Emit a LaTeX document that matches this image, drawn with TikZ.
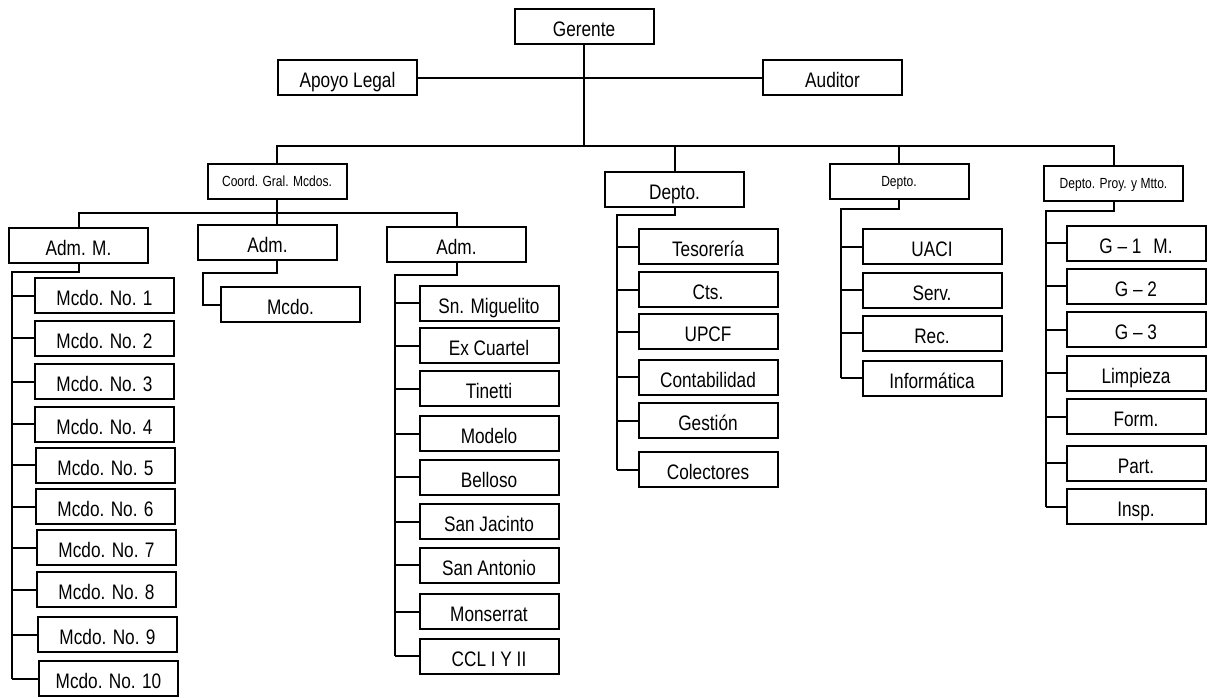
\documentclass[tikz,border=0pt]{standalone}
\usepackage{fontspec}
\setmainfont{Liberation Sans}[FakeStretch=0.82]
\usepackage{tikz}
\tikzset{orgbox/.style={draw, rectangle, inner sep=0pt,
    minimum width=104.25pt, minimum height=26.25pt,
    font=\fontsize{15.75}{18}\selectfont, text height=15pt, text depth=0pt},
    orgsmall/.style={orgbox, font=\fontsize{11}{13}\selectfont, text height=7.9pt}}

\begin{document}
\begin{tikzpicture}[x=0.75pt, y=-0.75pt, line width=1.5pt]
    \useasboundingbox (0,0) rectangle (1213,697);
    \node[orgbox] (ger) at (584,26) {Gerente};
    \node[orgbox] (apoyo) at (347.5,77.5) {Apoyo Legal};
    \node[orgbox] (audit) at (832.5,77.5) {Auditor};
    \coordinate (bus) at (584,146);
    \draw (apoyo) -- (audit);
    \draw (ger) -- (bus);

    \node[orgsmall] (coord) at (277,181.5) {Coord. Gral. Mcdos.};
    \node[orgbox] (dep1) at (674.5,189.5) {Depto.};
    \node[orgsmall] (dep2) at (899,181.5) {Depto.};
    \node[orgsmall] (deppm) at (1113.5,183.5) {Depto. Proy. y Mtto.};
    \draw (coord) |- (bus) -| (deppm);
    \draw (dep1) -- (dep1 |- bus);
    \draw (dep2) -- (dep2 |- bus);

    \coordinate (sub) at (277,213);
    \node[orgbox] (admM) at (78.5,245.5) {Adm. M.};
    \node[orgbox] (adm2) at (267.5,242.5) {Adm.};
    \node[orgbox] (adm3) at (456.5,244.5) {Adm.};
    \draw (admM) |- (sub) -| (adm3);
    \draw (coord) -- (coord |- adm2.north);

    \node[orgbox] (mcdo) at (290.5,304.5) {Mcdo.};
    \coordinate (railB) at (203,273);
    \draw (adm2.south -| coord) |- (railB) |- (mcdo);

    \coordinate (railM) at (12,272);
    \foreach \n/\x/\y/\t in {m1/104.5/295.5/Mcdo. No. 1, m2/104.5/338/Mcdo. No. 2,
        m3/104.5/381.5/Mcdo. No. 3, m4/104.5/424/Mcdo. No. 4, m5/105.5/465/Mcdo. No. 5,
        m6/105.5/506.5/Mcdo. No. 6, m7/106.5/547.5/Mcdo. No. 7, m8/106.5/589.5/Mcdo. No. 8,
        m9/107.5/634.5/Mcdo. No. 9, m10/108.5/678.5/Mcdo. No. 10} {
        \node[orgbox] (\n) at (\x,\y) {\t};
        \draw (railM |- \n) -- (\n);
    }
    \draw (admM) |- (railM) -- (railM |- m10);

    \coordinate (railS) at (395,275);
    \foreach \n/\y/\t in {smig/303/Sn. Miguelito, excu/345.5/Ex Cuartel, tine/388.5/Tinetti,
        mode/433.5/Modelo, bell/477/Belloso, sjac/521.5/San Jacinto, sant/565/San Antonio,
        mons/611.5/Monserrat, ccl/656/CCL I Y II} {
        \node[orgbox] (\n) at (489,\y) {\t};
        \draw (railS |- \n) -- (\n);
    }
    \draw (adm3) |- (railS) -- (railS |- ccl);

    \coordinate (railT) at (617,215);
    \foreach \n/\y/\t in {tes/246.5/Tesorería, cts/289.5/Cts., upcf/331.5/UPCF,
        cont/377/Contabilidad, gest/420.5/Gestión, col/469.5/Colectores} {
        \node[orgbox] (\n) at (708,\y) {\t};
        \draw (railT |- \n) -- (\n);
    }
    \draw (dep1) |- (railT) -- (railT |- col);

    \coordinate (railU) at (841,209);
    \foreach \n/\y/\t in {uaci/246.5/UACI, serv/290/Serv., rec/333/Rec., inf/378/Informática} {
        \node[orgbox] (\n) at (932,\y) {\t};
        \draw (railU |- \n) -- (\n);
    }
    \draw (dep2) |- (railU) -- (railU |- inf);

    \coordinate (railG) at (1046,211);
    \foreach \n/\y/\t in {g1/243/G – 1\hspace{9pt}M., g2/286/G – 2, g3/329.5/G – 3,
        limp/373/Limpieza, form/416.5/Form., part/463/Part., insp/506.5/Insp.} {
        \node[orgbox] (\n) at (1136,\y) {\t};
        \draw (railG |- \n) -- (\n);
    }
    \draw (deppm) |- (railG) -- (railG |- insp);
\end{tikzpicture}
\end{document}
